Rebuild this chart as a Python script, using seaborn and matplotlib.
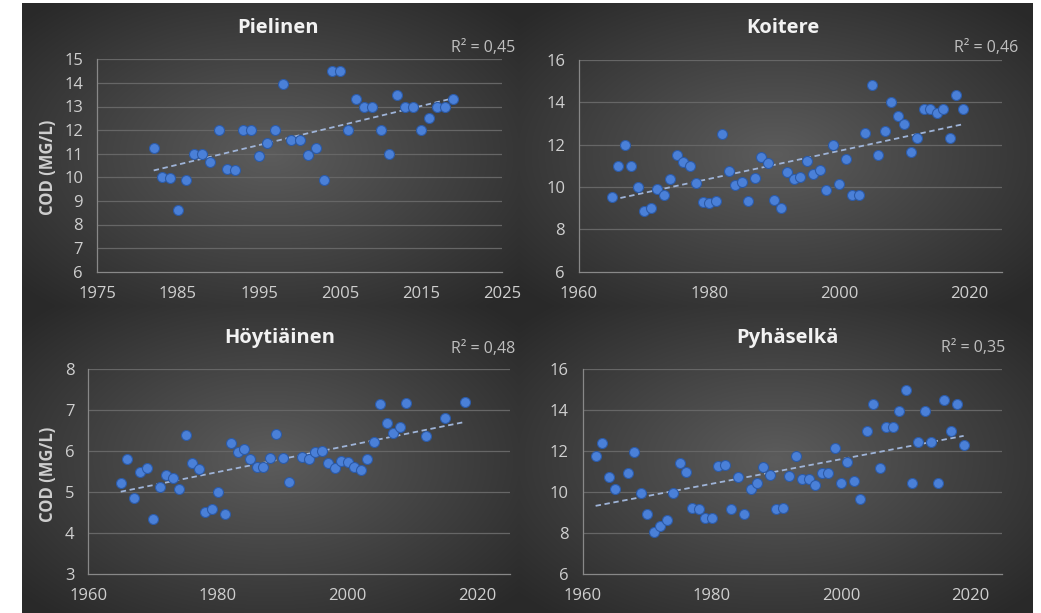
import numpy as np
import pandas as pd
import matplotlib
matplotlib.use("Agg")
import matplotlib.pyplot as plt
import seaborn as sns

# ---------------- data ----------------
titles = ["Pielinen", "Koitere", "Höytiäinen", "Pyhäselkä"]
r2_labels = ["R² = 0,45", "R² = 0,46", "R² = 0,48", "R² = 0,35"]
y_label = "COD (MG/L)"

pielinen_years = list(range(1982, 2020))
pielinen_cod = [11.25, 10.0, 9.95, 8.6, 9.9, 11.0, 11.0, 10.65, 12.0, 10.35,
                10.3, 12.0, 12.0, 10.9, 11.45, 12.0, 13.95, 11.6, 11.6, 10.95,
                11.25, 9.9, 14.5, 14.5, 12.0, 13.3, 13.0, 13.0, 12.0, 11.0,
                13.5, 13.0, 13.0, 12.0, 12.5, 13.0, 13.0, 13.3]

koitere_years = list(range(1965, 2020))
koitere_cod = [9.55, 11.0, 12.0, 11.0, 10.0, 8.87, 9.0, 9.92, 9.62, 10.38,
               11.5, 11.17, 11.0, 10.19, 9.28, 9.23, 9.34, 12.49, 10.74, 10.11,
               10.22, 9.34, 10.44, 11.43, 11.15, 9.4, 9.0, 10.69, 10.4, 10.49,
               11.24, 10.61, 10.82, 9.84, 12.0, 10.13, 11.31, 9.64, 9.64, 12.57,
               14.82, 11.5, 12.66, 14.0, 13.35, 12.99, 11.65, 12.33, 13.67, 13.67,
               13.48, 13.67, 12.31, 14.33, 13.67]

hoytiainen_years = list(range(1965, 1992)) + list(range(1993, 2010)) + [2012, 2015, 2018]
hoytiainen_cod = [5.23, 5.8, 4.85, 5.5, 5.59, 4.34, 5.12, 5.41, 5.33, 5.07,
                  6.39, 5.71, 5.55, 4.52, 4.6, 4.99, 4.47, 6.2, 5.98, 6.04,
                  5.8, 5.61, 5.61, 5.82, 6.41, 5.84, 5.24,
                  5.86, 5.8, 5.98, 6.01, 5.71, 5.58, 5.75, 5.74, 5.62, 5.53,
                  5.81, 6.21, 7.15, 6.69, 6.44, 6.59, 7.17,
                  6.36, 6.79, 7.19]

pyhaselka_years = list(range(1962, 1966)) + list(range(1967, 2020))
pyhaselka_cod = [11.75, 12.4, 10.75, 10.13,
                 10.94, 11.96, 9.94, 8.95, 8.06, 8.33, 8.66, 9.95, 11.4, 10.98,
                 9.24, 9.19, 8.72, 8.74, 11.27, 11.3, 9.19, 10.72, 8.92, 10.13,
                 10.42, 11.23, 10.81, 9.18, 9.22, 10.78, 11.77, 10.62, 10.62, 10.36,
                 10.94, 10.94, 12.16, 10.46, 11.48, 10.55, 9.65, 12.97, 14.3, 11.16,
                 13.18, 13.15, 13.94, 14.95, 10.46, 12.45, 13.94, 12.45, 10.46, 14.46,
                 12.97, 14.3, 12.29]

x_ticks = [[1975, 1985, 1995, 2005, 2015, 2025],
           [1960, 1980, 2000, 2020],
           [1960, 1980, 2000, 2020],
           [1960, 1980, 2000, 2020]]
y_ticks = [list(range(6, 16)), [6, 8, 10, 12, 14, 16],
           [3, 4, 5, 6, 7, 8], [6, 8, 10, 12, 14, 16]]

series = [(pielinen_years, pielinen_cod), (koitere_years, koitere_cod),
          (hoytiainen_years, hoytiainen_cod), (pyhaselka_years, pyhaselka_cod)]

# ---------------- styling ----------------
sns.set_theme(style="dark")
plt.rcParams["font.family"] = ["Open Sans", "DejaVu Sans"]

W, H = 1041, 613
fig = plt.figure(figsize=(W / 100, H / 100), dpi=100, facecolor="white")

def rect(x0, y0, x1, y1):
    return [x0 / W, 1 - y1 / H, (x1 - x0) / W, (y1 - y0) / H]

# panel backgrounds (pixel boxes)
panels = [(22, 3, 519, 306), (519, 3, 1033, 306),
          (22, 306, 519, 613), (519, 306, 1033, 613)]

c_center = np.array([0x5c, 0x5c, 0x5c]) / 255.0
c_edge = np.array([0x29, 0x29, 0x29]) / 255.0
for (x0, y0, x1, y1) in panels:
    bg = fig.add_axes(rect(x0, y0, x1, y1), zorder=0)
    nx, ny = x1 - x0, y1 - y0
    xx, yy = np.meshgrid(np.linspace(-1, 1, nx), np.linspace(-1, 1, ny))
    r = np.clip(np.sqrt(xx ** 2 + yy ** 2) / 1.35, 0, 1)
    img = c_center[None, None, :] * (1 - r[..., None]) + c_edge[None, None, :] * r[..., None]
    bg.imshow(img, aspect="auto", extent=[0, 1, 0, 1])
    bg.axis("off")

# plot areas (pixel boxes: left, top, right, bottom) and data limits
plot_boxes = [(97, 59.3, 502, 271.7), (579, 60, 1002, 271.7),
              (88.3, 368.7, 510, 574.3), (582.7, 368.7, 1002.4, 574.3)]
xlims = [(1975, 2025), (1960, 2025), (1960, 2025), (1960, 2025)]
ylims = [(6, 15), (6, 16), (3, 8), (6, 16)]
title_pos = [(278, 28), (783, 28), (280, 338), (787, 338)]
r2_pos = [(515, 48), (1018, 48), (515, 349), (1005, 348)]
ylabel_pos = [(48, 167), None, (48, 474), None]

text_col = "#cfcfcf"
grid_col = "#666666"
marker_col = "#4a80d8"
marker_edge = "#2c5aa6"
trend_col = "#9fb4d8"

for i in range(4):
    l, t, rr, b = plot_boxes[i]
    ax = fig.add_axes(rect(l, t, rr, b), zorder=2)
    ax.set_facecolor("none")
    yrs, vals = series[i]
    df = pd.DataFrame({"year": yrs, "cod": vals})
    sns.regplot(data=df, x="year", y="cod", ax=ax, scatter=False, ci=None,
                truncate=True,
                line_kws=dict(color=trend_col, lw=1.3, ls=(0, (3, 2)), zorder=3))
    sns.scatterplot(data=df, x="year", y="cod", ax=ax, s=52, color=marker_col,
                    edgecolor=marker_edge, linewidth=0.8, zorder=4, legend=False)
    ax.set_xlim(*xlims[i])
    ax.set_ylim(*ylims[i])
    ax.set_xticks(x_ticks[i])
    ax.set_yticks(y_ticks[i])
    ax.set_xlabel("")
    ax.set_ylabel("")
    ax.grid(False)
    for yv in y_ticks[i][1:]:
        ax.axhline(yv, color=grid_col, lw=0.9, zorder=1)
    for s in ["top", "right"]:
        ax.spines[s].set_visible(False)
    ax.spines["left"].set_color("#888888")
    ax.spines["left"].set_linewidth(0.9)
    ax.spines["bottom"].set_color("#888888")
    ax.spines["bottom"].set_linewidth(0.9)
    ax.tick_params(axis="both", length=0, colors=text_col, labelsize=12)
    ax.tick_params(axis="x", pad=10)
    ax.tick_params(axis="y", pad=10)

    tx, ty = title_pos[i]
    fig.text(tx / W, 1 - ty / H, titles[i], ha="center", va="center",
             color="#f2f2f2", fontsize=14.5, fontweight="bold", zorder=5)
    rx, ry = r2_pos[i]
    fig.text(rx / W, 1 - ry / H, r2_labels[i], ha="right", va="center",
             color="#bfbfbf", fontsize=11.5, zorder=5)
    if ylabel_pos[i] is not None:
        lx, ly = ylabel_pos[i]
        fig.text(lx / W, 1 - ly / H, y_label, ha="center", va="center",
                 rotation=90, color=text_col, fontsize=12, fontweight="bold",
                 zorder=5)

fig.savefig("out.png", dpi=100, facecolor="white")
